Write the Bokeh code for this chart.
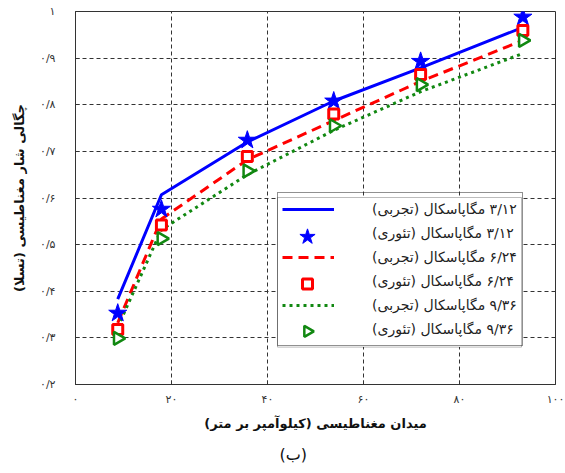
import numpy as np
from bokeh.plotting import figure
from bokeh.models import FixedTicker, Legend, LegendItem, Range1d, Title, BoxAnnotation
from bokeh.embed import file_html
from bokeh.resources import INLINE

RLM = "\u200f"  # right-to-left mark so mixed Persian/number labels read RTL
FONT = "DejaVu Sans"

# Magnetic field strength H (kA/m)
field_h = [8.8, 17.9, 35.8, 53.8, 71.9, 93.2]

# Magnetic flux density B (T) for three stress levels
b_exp_312 = [0.383, 0.607, 0.720, 0.808, 0.879, 0.966]
b_theo_312 = [0.353, 0.576, 0.724, 0.808, 0.893, 0.988]
b_exp_624 = [0.332, 0.555, 0.682, 0.766, 0.850, 0.938]
b_theo_624 = [0.318, 0.542, 0.689, 0.780, 0.865, 0.959]
b_exp_936 = [0.323, 0.532, 0.650, 0.745, 0.828, 0.910]
b_theo_936 = [0.299, 0.513, 0.658, 0.755, 0.843, 0.938]

x_ticks = [0, 20, 40, 60, 80, 100]
x_tick_labels = ["۰", "۲۰", "۴۰", "۶۰", "۸۰", "۱۰۰"]
y_ticks = [0.2, 0.3, 0.4, 0.5, 0.6, 0.7, 0.8, 0.9, 1.0]
y_tick_labels = ["۰/۲", "۰/۳", "۰/۴", "۰/۵", "۰/۶", "۰/۷", "۰/۸", "۰/۹", "۱"]

legend_labels = [
    "۳/۱۲ مگاپاسکال (تجربی)",
    "۳/۱۲ مگاپاسکال (تئوری)",
    "۶/۲۴ مگاپاسکال (تجربی)",
    "۶/۲۴ مگاپاسکال (تئوری)",
    "۹/۳۶ مگاپاسکال (تجربی)",
    "۹/۳۶ مگاپاسکال (تئوری)",
]
x_title = "میدان مغناطیسی (کیلوآمپر بر متر)"
y_title = "چگالی شار مغناطیسی (تسلا)"
caption = "(ب)"

BLUE, RED, GREEN = "#0000ff", "#ff0000", "#118811"

# frame geometry (pixels) and axis limits
FRAME_W, FRAME_H = 480, 379
X0, X1, Y0, Y1 = 0, 100, 0.2, 1.0


def px_to_x(px):
    return X0 + px / FRAME_W * (X1 - X0)


def px_to_y(py):
    return Y0 + py / FRAME_H * (Y1 - Y0)


p = figure(
    width=565, height=473,
    x_range=Range1d(X0, X1), y_range=Range1d(Y0, Y1),
    output_backend="svg", toolbar_location=None,
    min_border_left=75, min_border_right=10,
    min_border_top=11, min_border_bottom=83,
    background_fill_color="white", border_fill_color="white",
)
p.outline_line_color = "#333333"
p.outline_line_width = 1

# axes
p.xaxis.ticker = FixedTicker(ticks=x_ticks)
p.yaxis.ticker = FixedTicker(ticks=y_ticks)
p.xaxis.major_label_overrides = dict(zip(x_ticks, x_tick_labels))
p.yaxis.major_label_overrides = dict(zip(y_ticks, y_tick_labels))
for ax in (p.xaxis, p.yaxis):
    ax.major_tick_in = 4
    ax.major_tick_out = 0
    ax.minor_tick_in = 0
    ax.minor_tick_out = 0
    ax.axis_line_color = "#333333"
    ax.major_tick_line_color = "#333333"
    ax.major_label_text_font = FONT
    ax.major_label_text_font_size = "11px"
    ax.major_label_text_color = "#333333"
    ax.axis_label_text_font = FONT
    ax.axis_label_text_font_size = "13px"
    ax.axis_label_text_font_style = "bold"
    ax.axis_label_text_color = "#111111"
p.xaxis.major_label_standoff = 8
p.yaxis.major_label_standoff = 20
p.xaxis.axis_label = x_title
p.yaxis.axis_label = y_title
p.xaxis.axis_label_standoff = 7
p.yaxis.axis_label_standoff = 10

# dashed grid
p.grid.grid_line_color = "#333333"
p.grid.grid_line_dash = "4 3"
p.grid.grid_line_width = 1

# legend layout (pixels from the frame's bottom-left corner)
LEG_X, LEG_Y = 202, 38
LEG_PAD, GLYPH_W, ROW_H, STANDOFF, LABEL_W = 4, 52, 24, 38, 146
LEG_W = 2 * LEG_PAD + GLYPH_W + STANDOFF + LABEL_W
LEG_H = 2 * LEG_PAD + 6 * ROW_H
KEY_X = px_to_x(LEG_X + LEG_PAD + GLYPH_W / 2)


def key_y(row):
    """Data y of the centre of legend row `row` (0 = top row)."""
    return px_to_y(LEG_Y + LEG_PAD + (6 - row - 0.5) * ROW_H)


# white legend panel under the data layer, so the grid is hidden behind it
p.add_layout(BoxAnnotation(
    left=px_to_x(LEG_X), right=px_to_x(LEG_X + LEG_W),
    bottom=px_to_y(LEG_Y), top=px_to_y(LEG_Y + LEG_H),
    fill_color="white", fill_alpha=1.0, line_color="#222222", line_width=1,
    level="underlay",
))

# experimental curves
l1 = p.line(field_h, b_exp_312, line_color=BLUE, line_width=3)
l2 = p.line(field_h, b_exp_624, line_color=RED, line_width=3, line_dash="10 6")
l3 = p.line(field_h, b_exp_936, line_color=GREEN, line_width=3, line_dash="3 4")

# theoretical points
star_style = dict(marker="star", fill_color=BLUE, line_color=BLUE)
square_style = dict(marker="square", fill_color="white", line_color=RED, line_width=3)
tri_style = dict(marker="triangle", angle=-np.pi / 2, fill_color="white",
                 line_color=GREEN, line_width=2.5)
p.scatter(field_h, b_theo_312, size=19, **star_style)
p.scatter(field_h, b_theo_624, size=10, **square_style)
p.scatter(field_h, b_theo_936, size=13, **tri_style)

# marker keys drawn in the legend panel at full size (legend swatches would be
# shrunk and never rotated); the legend entries get invisible placeholders
p.scatter([KEY_X], [key_y(1)], size=16, **star_style)
p.scatter([KEY_X], [key_y(3)], size=10, **square_style)
p.scatter([KEY_X], [key_y(5)], size=11, **tri_style)
blank = [p.scatter([], [], marker="circle", fill_alpha=0, line_alpha=0) for _ in range(3)]

renderers = [l1, blank[0], l2, blank[1], l3, blank[2]]
legend = Legend(
    items=[LegendItem(label=RLM + lab, renderers=[r]) for lab, r in zip(legend_labels, renderers)],
    location=(LEG_X, LEG_Y),
    glyph_width=GLYPH_W, glyph_height=ROW_H, label_height=ROW_H,
    spacing=0, padding=LEG_PAD, margin=0, label_standoff=STANDOFF,
    label_width=LABEL_W,
    border_line_color="#222222", border_line_width=1,
    background_fill_alpha=0.0,
    label_text_font=FONT, label_text_font_size="14px", label_text_color="#222222",
)
p.add_layout(legend)

p.add_layout(Title(text=caption, align="left", offset=204, standoff=19,
                   text_font=FONT, text_font_size="16px",
                   text_font_style="normal", text_color="#111111"), "below")

open("out.html", "w").write(file_html(p, INLINE))
